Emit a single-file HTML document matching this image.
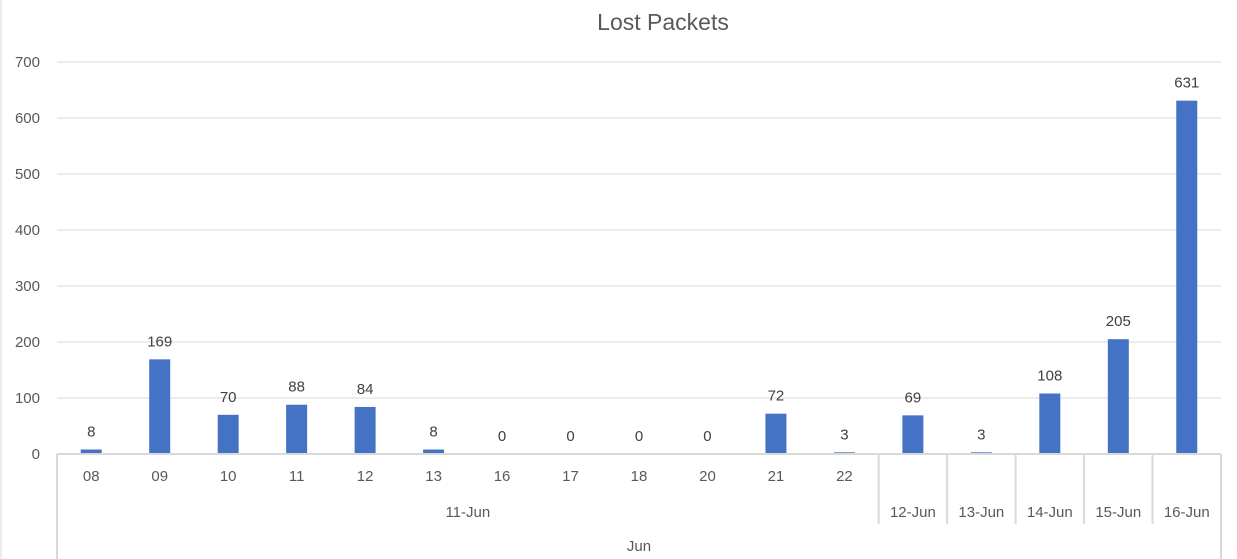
<!DOCTYPE html>
<html><head><meta charset="utf-8"><style>
body{margin:0;background:#fff;}
svg{display:block;font-family:"Liberation Sans",sans-serif;}
</style></head><body>
<svg id="chart" width="1237" height="559">
<line x1="1" y1="0" x2="1" y2="559" stroke="#d9d9d9"/>
<text x="663" y="30" text-anchor="middle" font-size="23" fill="#595959">Lost Packets</text>
<g id="grid"></g><g id="bars"></g><g id="axis"></g>
</svg>
<script>
const categories=["08","09","10","11","12","13","16","17","18","20","21","22","12-Jun","13-Jun","14-Jun","15-Jun","16-Jun"];
const values=[8,169,70,88,84,8,0,0,0,0,72,3,69,3,108,205,631];
const yTicks=[0,100,200,300,400,500,600,700];
const groupLabel="11-Jun";
const outerLabel="Jun";
const NS="http://www.w3.org/2000/svg";
const X0=57,X1=1221,Y0=454,Y700=62;
const cw=(X1-X0)/categories.length;
function y(v){return Y0-(v/700)*(Y0-Y700);}
function xc(i){return X0+cw*(i+0.5);}
function mk(p,tag,a,txt){const e=document.createElementNS(NS,tag);for(const k in a)e.setAttribute(k,a[k]);if(txt!==undefined)e.textContent=txt;p.appendChild(e);return e;}
const G=document.getElementById('grid'),B=document.getElementById('bars'),A=document.getElementById('axis');
yTicks.forEach(t=>{
 if(t>0){const l=mk(G,'line',{x1:X0,x2:X1,y1:y(t),y2:y(t),stroke:'#d9d9d9'});
 
 }
 const tx=mk(G,'text',{x:40,y:y(t)+5,'text-anchor':'end','font-size':15,fill:'#595959'},t);
 
 
});
values.forEach((v,i)=>{
 const r=mk(B,'rect',{x:xc(i)-10.5,y:y(v),width:21,height:Y0-y(v),fill:'#4472c4'});
 
 
 const t=mk(B,'text',{x:xc(i),y:y(v)-13,'text-anchor':'middle','font-size':15,fill:'#404040'},v);
 
 
});
const ax=mk(A,'line',{x1:X0,x2:X1,y1:Y0,y2:Y0,stroke:'#d9d9d9','stroke-width':2});


[X0,X1].forEach(xx=>{const l=mk(A,'line',{x1:xx,x2:xx,y1:Y0,y2:559,stroke:'#d9d9d9','stroke-width':2});
 
 });
categories.forEach((c,i)=>{
 const multi=c.includes('-');
 const t=mk(A,'text',{x:xc(i),y:multi?517:481,'text-anchor':'middle','font-size':15,fill:'#595959'},c);
 
 
 if(multi){const xx=X0+cw*i;const l=mk(A,'line',{x1:xx,x2:xx,y1:Y0,y2:524,stroke:'#d9d9d9','stroke-width':2});
 
 }
});
const nG=categories.filter(c=>!c.includes('-')).length;
const g=mk(A,'text',{x:X0+cw*nG/2,y:517,'text-anchor':'middle','font-size':15,fill:'#595959'},groupLabel);


const o=mk(A,'text',{x:(X0+X1)/2,y:551,'text-anchor':'middle','font-size':15,fill:'#595959'},outerLabel);


</script>
</body></html>
